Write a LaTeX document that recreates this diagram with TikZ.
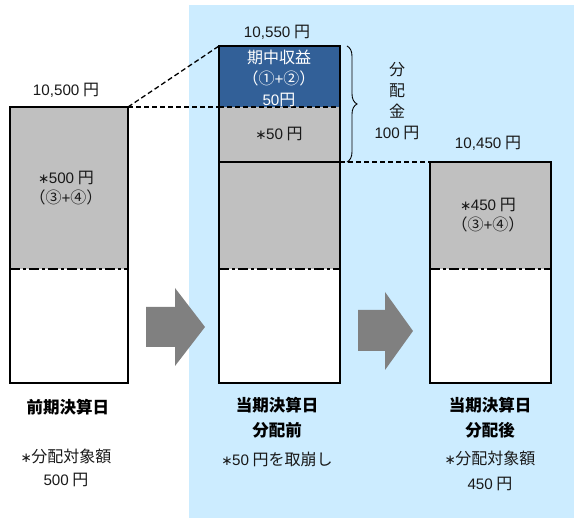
\documentclass[tikz,border=0pt]{standalone}
\usepackage{fontspec}
\setmainfont{Noto Sans CJK JP}
\newfontfamily\lt{Liberation Sans}[Scale=0.95]
\newfontfamily\dv{DejaVu Sans}
\newcommand{\myast}{{\dv\fontsize{13.5}{13.5}\selectfont ∗\kern-0.05em}}
\usetikzlibrary{decorations.pathreplacing}
\definecolor{bgblue}{RGB}{204,236,255}
\definecolor{boxblue}{RGB}{50,96,152}
\definecolor{boxgray}{RGB}{192,192,192}
\definecolor{arrgray}{RGB}{128,128,128}
\begin{document}
\begin{tikzpicture}[x=1pt,y=-1pt,
  lbl/.style={font=\fontsize{16}{20}\selectfont, align=center, inner sep=0pt, text=black!90},
  wlbl/.style={lbl, text=white, font=\fontsize{16}{21}\selectfont},
  ttl/.style={font=\bfseries\fontsize{16.5}{25}\selectfont, align=center, inner sep=0pt},
  note/.style={lbl, font=\fontsize{16}{23}\selectfont},
  boxline/.style={line width=1.8pt},
  dd/.style={line width=1.8pt, dash pattern=on 10pt off 3pt on 3pt off 3pt},
  conn/.style={line width=1.3pt, dash pattern=on 5pt off 3pt},
  bigarrow/.style={fill=arrgray}]
\useasboundingbox (0,0) rectangle (574,518);
\fill[bgblue] (189,5) rectangle (574,518);

% corner coordinates
\coordinate (Ltr) at (128,107);
\coordinate (Mtl) at (219,46);
\coordinate (Mml) at (219,107);
\coordinate (Mmr) at (340,107);
\coordinate (Mbr) at (340,162);
\coordinate (Rtl) at (430,162);
\coordinate (Btop) at (347,46);
\coordinate (Bbot) at (347,162);

% left box
\fill[boxgray] (10,107) rectangle (128,269);
\fill[white] (10,269) rectangle (128,383);
\draw[dd] (10,269) -- (128,269);
\draw[boxline] (10,107) rectangle (128,383);

% middle box
\fill[boxblue] (219,46) rectangle (340,107);
\fill[boxgray] (219,107) rectangle (340,269);
\fill[white] (219,269) rectangle (340,383);
\draw[conn] (Mml) -- (Mmr);
\draw[dd] (219,269) -- (340,269);
\draw[boxline] (219,46) rectangle (340,162);
\draw[boxline] (219,162) rectangle (340,383);

% right box
\fill[boxgray] (430,162) rectangle (551,269);
\fill[white] (430,269) rectangle (551,383);
\draw[dd] (430,269) -- (551,269);
\draw[boxline] (430,162) rectangle (551,383);

% connectors
\draw[conn] (Ltr) -- (Mtl);
\draw[conn] (Ltr) -- (Mml);
\draw[conn] (Mbr) -- (Rtl);

% brace
\draw[line width=0.9pt, decorate, decoration={brace, amplitude=10pt}] (Btop) -- (Bbot);

% block arrows
\fill[bigarrow] (146,307) -- (175,307) -- (175,288) -- (205,327) -- (175,366) -- (175,347) -- (146,347) -- cycle;
\fill[bigarrow] (358,310) -- (385,310) -- (385,292) -- (413,331) -- (385,370) -- (385,351) -- (358,351) -- cycle;

% labels
\node[lbl] (ltop) at (66,90) {{\lt 10,500} 円};
\node[lbl] (mtop) at (277,32) {{\lt 10,550} 円};
\node[lbl] (rtop) at (488,143) {{\lt 10,450} 円};

\node[lbl] (lin) at (66,188) {\myast{\lt 500} 円\\（③{\lt +}④）};
\node[wlbl] (min) at (279,78) {期中収益\\（①{\lt +}②）\\{\lt 50}円};
\node[lbl] (mgray) at (279,134) {\myast{\lt 50} 円};
\node[lbl] (rin) at (488,215) {\myast{\lt 450} 円\\（③{\lt +}④）};

\node[lbl, font=\fontsize{16}{21}\selectfont] (bun) at (397,101) {分\\配\\金\\{\lt 100} 円};

\node[ttl] (lttl) at (68,407) {前期決算日};
\node[note] (lnote) at (66,468) {\myast 分配対象額\\{\lt 500} 円};
\node[ttl] (mttl) at (277,418) {当期決算日\\分配前};
\node[lbl] (mnote) at (277,459) {\myast{\lt 50} 円を取崩し};
\node[ttl] (rttl) at (490,418) {当期決算日\\分配後};
\node[note, font=\fontsize{16}{25}\selectfont] (rnote) at (490,471) {\myast 分配対象額\\{\lt 450} 円};
\end{tikzpicture}
\end{document}
